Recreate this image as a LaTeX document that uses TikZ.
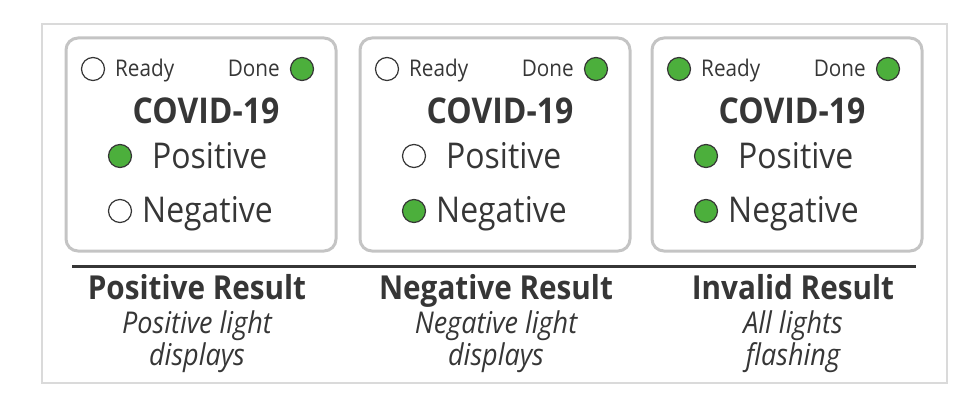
\documentclass[tikz,border=0pt]{standalone}
\usepackage{fontspec}
\setmainfont{Open Sans}[FakeStretch=0.9]
\definecolor{LampClr}{HTML}{4CAF3C}
\definecolor{TextClr}{HTML}{363636}
\definecolor{BoxClr}{HTML}{C4C4C4}
\definecolor{FrameClr}{HTML}{DADADA}

\begin{document}
\begin{tikzpicture}[x=1pt,y=-1pt,
  lamp/.style={circle,draw=TextClr,line width=1.2pt,fill=white,minimum size=23pt,inner sep=0pt},
  lampon/.style={lamp,fill=LampClr},
  panel/.style={draw=BoxClr,line width=3pt,rounded corners=12pt},
  small/.style={font=\fontsize{23}{23}\selectfont,text=TextClr,inner sep=0pt},
  head/.style={font=\fontsize{35.5}{35.5}\selectfont\bfseries,text=TextClr,inner sep=0pt},
  big/.style={font=\fontsize{35.5}{35.5}\selectfont,text=TextClr,inner sep=0pt},
  result/.style={font=\fontsize{33}{33}\selectfont\bfseries,text=TextClr,inner sep=0pt,anchor=base},
  note/.style={font=\fontsize{30}{30}\selectfont\itshape,text=TextClr,inner sep=0pt,anchor=base}]
\useasboundingbox (0,0) rectangle (968,401);
\draw[FrameClr,line width=1.5pt] (42,24) rectangle (947,383);

% the three test cassettes
\foreach \x/\rd/\ps/\ng/\i in {66/lamp/lampon/lamp/1,360/lamp/lamp/lampon/2,652/lampon/lampon/lampon/3}{
  \draw[panel] (\x,38) rectangle ++(270,213);
  \node[\rd] (ready\i) at (\x+27,69) {};
  \node[small,anchor=base west] (readytxt\i) at (\x+49,77) {Ready};
  \node[small,anchor=base east] (donetxt\i) at (\x+214,77) {Done};
  \node[lampon] (done\i) at (\x+236,69) {};
  \node[head,anchor=base] (covid\i) at (\x+140,124) {COVID-19};
  \node[\ps] (pos\i) at (\x+54,156) {};
  \node[big,anchor=base west] (postxt\i) at (\x+86,168) {Positive};
  \node[\ng] (neg\i) at (\x+54,211) {};
  \node[big,anchor=base west] (negtxt\i) at (\x+76,222) {Negative};
}

\draw[TextClr,line width=3pt] (72,266) -- (916,266);

% captions
\foreach \cx/\t/\a/\b/\i in {197/Positive Result/Positive light/displays/1,
    496/Negative Result/Negative light/displays/2,
    793/Invalid Result/All lights/flashing/3}{
  \node[result] (result\i) at (\cx,299) {\t};
  \node[note] (notea\i) at (\cx,333) {\a};
  \node[note] (noteb\i) at (\cx,365) {\b};
}
\end{tikzpicture}
\end{document}
